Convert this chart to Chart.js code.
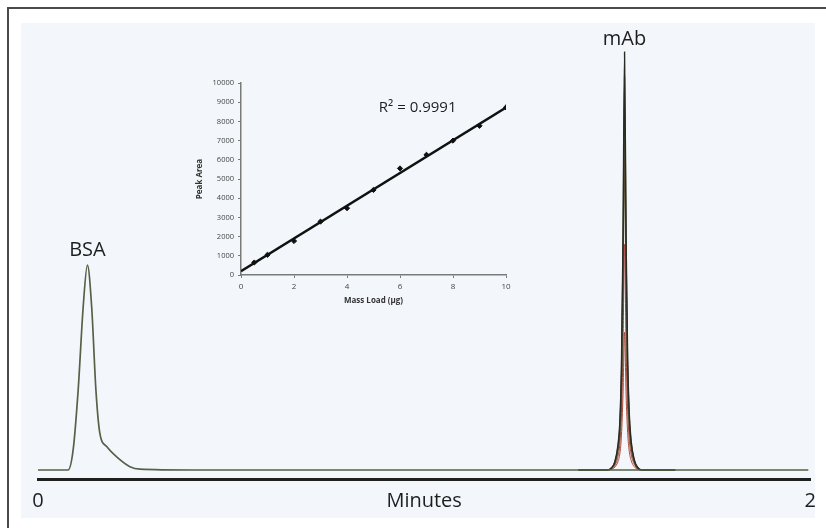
<!DOCTYPE html>
<html>
<head>
<meta charset="utf-8">
<script src="https://cdn.jsdelivr.net/npm/chart.js@4.4.1/dist/chart.umd.min.js"></script>
<style>
    html, body { margin: 0; padding: 0; background: #fff; }
    #wrap { position: relative; width: 826px; height: 528px; overflow: hidden; }
    #mainChart { position: absolute; left: 0; top: 0; }
    #insetChart { position: absolute; left: 180px; top: 60px; }
</style>
</head>
<body>
<div id="wrap">
    <canvas id="mainChart" width="826" height="528"></canvas>
    <canvas id="insetChart" width="340" height="260"></canvas>
</div>
<script>
// --- CHROMATOGRAM DATA (time in minutes, signal in relative units) ---
const bsaTimes = [0, 0.078, 0.091, 0.104, 0.117, 0.128, 0.139, 0.150, 0.160, 0.178, 0.203, 0.238, 0.264, 0.40, 1.40, 1.995];
const bsaSignal = [0, 0, 4.8, 19.1, 39, 49, 39, 19.1, 8.9, 5.6, 3.2, 0.8, 0.2, 0, 0, 0];

const mabTimes = [1.40, 1.474, 1.485, 1.494, 1.502, 1.507, 1.511, 1.515, 1.519, 1.523, 1.527, 1.531, 1.536, 1.544, 1.553, 1.564, 1.65];
const mabRun1 = [0, 0, 0.5, 2, 6, 12, 25, 55, 100, 55, 27, 14, 7, 2.5, 0.6, 0, 0];
const mabRun2 = [0, 0, 0.5, 1.9, 5.6, 11, 23.5, 52, 94, 52, 25, 13, 6.6, 2.4, 0.6, 0, 0];
const mabRun3 = [0, 0, 0.4, 1.7, 5.2, 10, 21.5, 47, 86, 47, 23, 12, 6, 2.2, 0.5, 0, 0];
const mabRun4 = [0, 0, 0.4, 1.5, 4.6, 9, 19, 42, 76, 42, 20.5, 10.6, 5.3, 1.9, 0.5, 0, 0];
const mabRun5 = [0, 0, 0.3, 1.1, 3.2, 6.5, 13.5, 29, 54, 29, 14.5, 7.5, 3.8, 1.4, 0.3, 0, 0];
const mabRun6 = [0, 0, 0.2, 0.7, 2, 4, 8.3, 18, 33, 18, 9, 4.6, 2.3, 0.8, 0.2, 0, 0];

const xTickLabels = { 0: '0', 1: 'Minutes', 2: '2' };

// --- INSET CALIBRATION DATA ---
const massLoad = [0.5, 1, 2, 3, 4, 5, 6, 7, 8, 9, 10];
const peakArea = [650, 1050, 1770, 2780, 3480, 4430, 5550, 6260, 7000, 7770, 8730];
const fitX = [0, 10];
const fitY = [200, 8720];
const rSquaredText = 'R\u00b2 = 0.9991';

function toPoints(xs, ys) {
    return xs.map((x, i) => ({ x: x, y: ys[i] }));
}

const MAIN_FONT = '"Open Sans", "DejaVu Sans", sans-serif';

// frame + light panel behind the chromatogram
const framePlugin = {
    id: 'frame',
    beforeDraw(chart) {
        const ctx = chart.ctx;
        ctx.save();
        ctx.fillStyle = '#ffffff';
        ctx.fillRect(0, 0, chart.width, chart.height);
        ctx.fillStyle = '#f3f7fb';
        ctx.fillRect(21, 23, 794, 495);
        ctx.strokeStyle = '#4a4a4a';
        ctx.lineWidth = 2;
        ctx.beginPath();
        ctx.moveTo(826, 8);
        ctx.lineTo(8, 8);
        ctx.lineTo(8, 528);
        ctx.stroke();
        ctx.restore();
    },
};

// peak names above the peaks
const peakLabelPlugin = {
    id: 'peakLabels',
    afterDatasetsDraw(chart) {
        const ctx = chart.ctx;
        const xs = chart.scales.x;
        const ys = chart.scales.y;
        ctx.save();
        ctx.fillStyle = '#1e1e1e';
        ctx.font = '20px ' + MAIN_FONT;
        ctx.textAlign = 'center';
        ctx.textBaseline = 'alphabetic';
        ctx.fillText('BSA', xs.getPixelForValue(0.128), ys.getPixelForValue(49) - 9);
        ctx.fillText('mAb', xs.getPixelForValue(1.519), ys.getPixelForValue(100) - 7);
        ctx.restore();
    },
};

function traceSet(label, data, color, width) {
    return {
        label: label,
        data: data,
        showLine: true,
        borderColor: color,
        borderWidth: width,
        pointRadius: 0,
        fill: false,
        cubicInterpolationMode: 'monotone',
    };
}

// first dataset is drawn on top, so the tallest dark run comes first
new Chart(document.getElementById('mainChart'), {
    type: 'scatter',
    data: {
        datasets: [
            traceSet('BSA', toPoints(bsaTimes, bsaSignal), '#566148', 1.7),
            traceSet('run 1', toPoints(mabTimes, mabRun1), '#2a2a24', 1.4),
            traceSet('run 2', toPoints(mabTimes, mabRun2), '#4a5a38', 1.3),
            traceSet('run 3', toPoints(mabTimes, mabRun3), '#6b4a30', 1.2),
            traceSet('run 4', toPoints(mabTimes, mabRun4), '#5a5030', 1.2),
            traceSet('run 5', toPoints(mabTimes, mabRun5), '#a8463a', 1),
            traceSet('run 6', toPoints(mabTimes, mabRun6), '#b04a3c', 1),
        ],
    },
    options: {
        responsive: false,
        animation: false,
        events: [],
        layout: { padding: { left: 38, right: 14, top: 30, bottom: 0 } },
        plugins: {
            legend: { display: false },
            tooltip: { enabled: false },
        },
        scales: {
            x: {
                type: 'linear',
                min: 0,
                max: 2,
                afterFit: (scale) => { scale.height = 49; },
                grid: { display: false, drawTicks: false },
                border: { display: true, color: '#1f1f1f', width: 3 },
                ticks: {
                    stepSize: 1,
                    padding: 10,
                    color: '#1e1e1e',
                    font: { family: MAIN_FONT, size: 20 },
                    maxRotation: 0,
                    callback: (v) => xTickLabels[v] !== undefined ? xTickLabels[v] : '',
                },
            },
            y: {
                display: false,
                min: -2.153,
                max: 105.26,
            },
        },
    },
    plugins: [framePlugin, peakLabelPlugin],
});

// R² annotation in the inset
const rSquaredPlugin = {
    id: 'rSquared',
    afterDatasetsDraw(chart) {
        const ctx = chart.ctx;
        ctx.save();
        ctx.fillStyle = '#1e1e1e';
        ctx.font = '15px ' + MAIN_FONT;
        ctx.textAlign = 'left';
        ctx.textBaseline = 'middle';
        ctx.fillText(rSquaredText, chart.scales.x.getPixelForValue(5.2), chart.scales.y.getPixelForValue(8700));
        ctx.restore();
    },
};

const INSET_FONT = '"Open Sans", "DejaVu Sans", sans-serif';

new Chart(document.getElementById('insetChart'), {
    type: 'scatter',
    data: {
        datasets: [
            {
                label: 'Peak area',
                data: toPoints(massLoad, peakArea),
                pointStyle: 'rectRot',
                pointRadius: 2.6,
                backgroundColor: '#111',
                borderColor: '#111',
                showLine: false,
            },
            {
                label: 'Linear fit',
                data: toPoints(fitX, fitY),
                showLine: true,
                borderColor: '#111',
                borderWidth: 2.4,
                pointRadius: 0,
            },
        ],
    },
    options: {
        responsive: false,
        animation: false,
        events: [],
        layout: { padding: { left: 11, right: 14, top: 23, bottom: 10 } },
        plugins: {
            legend: { display: false },
            tooltip: { enabled: false },
        },
        scales: {
            x: {
                type: 'linear',
                min: 0,
                max: 10,
                afterFit: (scale) => { scale.height = 35; },
                grid: { drawOnChartArea: false, drawTicks: true, tickLength: 3, color: '#7a7a7a' },
                border: { display: true, color: '#7a7a7a', width: 1.5 },
                ticks: {
                    stepSize: 2,
                    padding: 4,
                    color: '#444',
                    font: { family: INSET_FONT, size: 8 },
                    maxRotation: 0,
                },
                title: {
                    display: true,
                    text: 'Mass Load (\u00b5g)',
                    color: '#333',
                    font: { family: INSET_FONT, size: 8, weight: 'bold' },
                    padding: { top: 2, bottom: 4 },
                },
            },
            y: {
                min: 0,
                max: 10000,
                afterFit: (scale) => { scale.width = 50; },
                grid: { drawOnChartArea: false, drawTicks: true, tickLength: 3, color: '#7a7a7a' },
                border: { display: true, color: '#7a7a7a', width: 1.5 },
                ticks: {
                    stepSize: 1000,
                    padding: 4,
                    color: '#444',
                    font: { family: INSET_FONT, size: 7.5 },
                    callback: (v) => String(v),
                },
                title: {
                    display: true,
                    text: 'Peak Area',
                    color: '#333',
                    font: { family: INSET_FONT, size: 8, weight: 'bold' },
                    padding: { top: 4, bottom: 2 },
                },
            },
        },
    },
    plugins: [rSquaredPlugin],
});
</script>
</body>
</html>
